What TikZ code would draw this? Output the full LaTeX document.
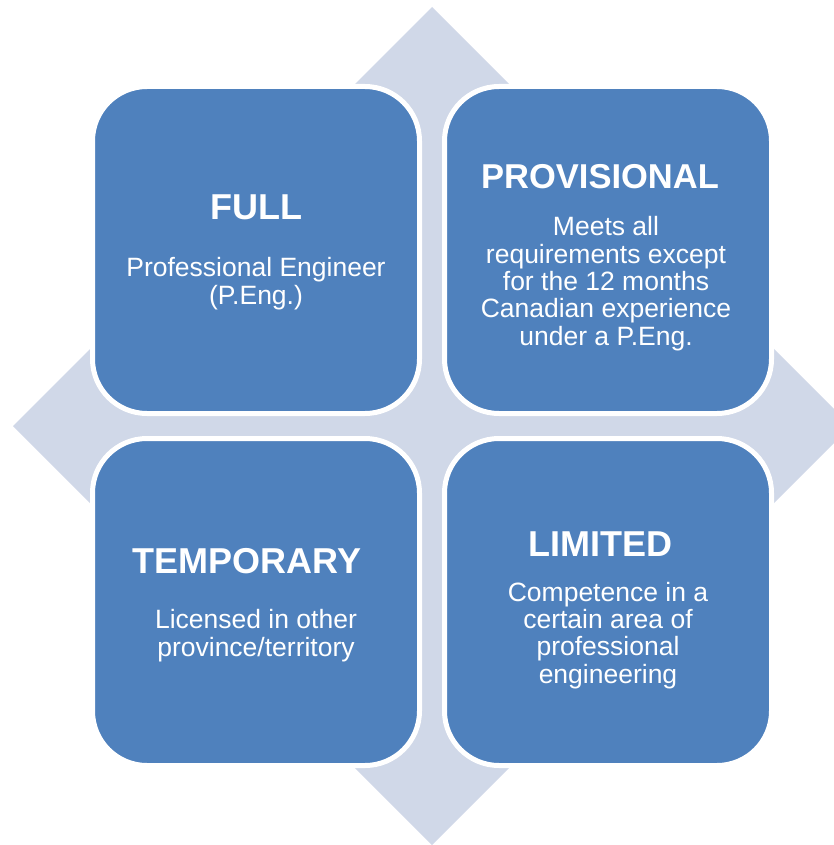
\documentclass[tikz,border=0pt]{standalone}
\usepackage{fontspec}
\setmainfont{Liberation Sans}
\definecolor{boxblue}{HTML}{4F81BD}
\definecolor{diamondfill}{HTML}{D0D8E8}
\begin{document}
\begin{tikzpicture}[x=1pt,y=-1pt,
  quad/.style={rectangle, rounded corners=54.5pt, fill=boxblue, draw=white, line width=5pt, minimum width=327pt, minimum height=327pt, inner sep=0pt},
  ttl/.style={text=white, font=\bfseries\fontsize{36}{40}\selectfont, anchor=base, inner sep=0pt},
  body/.style={text=white, font=\fontsize{26.5}{27.3}\selectfont, align=center, anchor=base, inner sep=0pt}]
\useasboundingbox (0,0) rectangle (834,845);
\clip (0,0) rectangle (834,845);
\fill[diamondfill] (432,7) -- (851,426) -- (432,845) -- (13,426) -- cycle;
\node[quad] (full) at (256,250) {};
\node[quad] (prov) at (608,250) {};
\node[quad] (temp) at (256,602) {};
\node[quad] (lim) at (608,602) {};
\node[ttl] (fullT) at (256,219) {FULL};
\node[ttl, font=\bfseries\fontsize{34.5}{38}\selectfont] (provT) at (600,188) {PROVISIONAL};
\node[ttl] (tempT) at (247,573) {TEMPORARY};
\node[ttl] (limT) at (600,556) {LIMITED};
\node[body] (fullB) at (256,304) {Professional Engineer\\(P.Eng.)};
\node[body] (provB) at (606,345) {Meets all\\requirements except\\for the 12 months\\Canadian experience\\under a P.Eng.};
\node[body] (tempB) at (256,656) {Licensed in other\\province/territory};
\node[body] (limB) at (608,683) {Competence in a\\certain area of\\professional\\engineering};
\end{tikzpicture}
\end{document}
